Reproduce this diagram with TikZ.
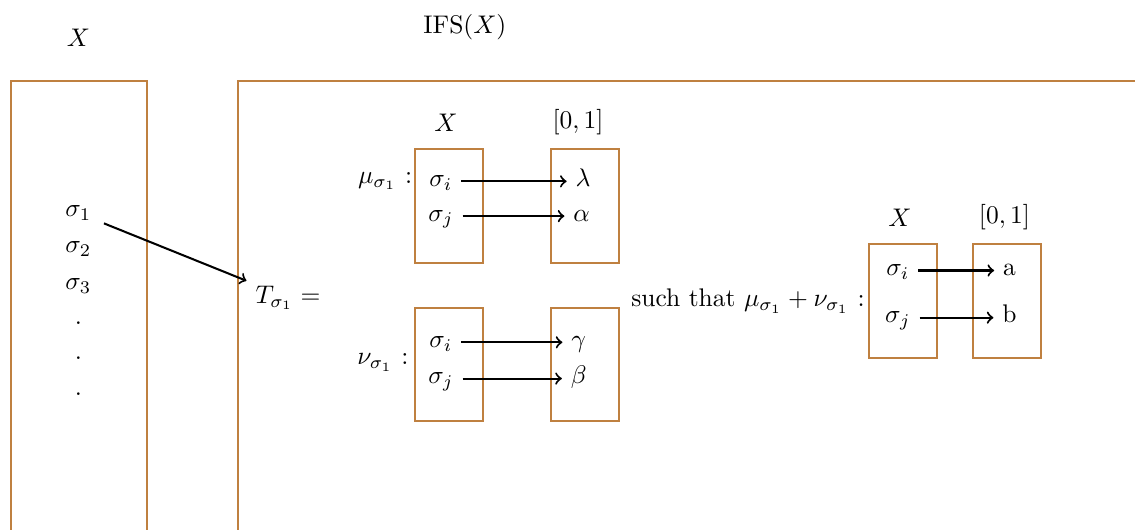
\documentclass[tikz,border=0pt]{standalone}
\begin{document}
\begin{tikzpicture}[
        set/.style={draw=brown, thick, minimum width=0.94cm, minimum height=1.56cm},
        elem/.style={text height=1.5ex, text depth=0.6ex},
        map/.style={->, thick}]

            \clip (0,0) rectangle (15.65,7.30);

            % the two big sets
            \draw[brown, thick] (0.15,-1) rectangle (2.03,6.18);
            \draw[brown, thick] (3.28,-1) rectangle (16.5,6.18);
            \node (xtop) at (1.08,6.78) {$X$};
            \node (ifstop) at (6.41,6.92) {IFS$(X)$};

            \node[elem] (s1) at (1.08,4.38) {$\sigma_1$};
            \node[elem] (s2) at (1.08,3.89) {$\sigma_2$};
            \node[elem] (s3) at (1.08,3.38) {$\sigma_3$};
            \node (d1) at (1.08,2.85) {.};
            \node (d2) at (1.08,2.36) {.};
            \node (d3) at (1.08,1.87) {.};

            \node (T) at (3.97,3.19) {$T_{\sigma_1} =$};
            \coordinate (s1out) at ([xshift=0.5mm,yshift=-1.6mm]s1.east);
            \draw[map] (s1out) -- ([yshift=-0.5mm]T.north west);

            % membership
            \node[set] (muX) at (6.19,4.46) {};
            \node[set] (muI) at (8.07,4.46) {};
            \node (muXl) at (6.15,5.61) {$X$};
            \node (muIl) at (7.97,5.61) {$[0,1]$};
            \node (mu) at (5.31,4.80) {$\mu_{\sigma_1}$ :};
            \node[elem] (mui) at (6.08,4.80) {$\sigma_i$};
            \node[elem] (muj) at (6.08,4.32) {$\sigma_j$};
            \node[elem] (lam) at (8.04,4.80) {$\lambda$};
            \node[elem] (alp) at (8.02,4.32) {$\alpha$};
            \draw[map] (mui) -- (lam);
            \draw[map] (muj) -- (alp);

            % non-membership
            \node[set] (nuX) at (6.19,2.27) {};
            \node[set] (nuI) at (8.07,2.27) {};
            \node (nu) at (5.28,2.30) {$\nu_{\sigma_1}$ :};
            \node[elem] (nui) at (6.08,2.58) {$\sigma_i$};
            \node[elem] (nuj) at (6.08,2.08) {$\sigma_j$};
            \node[elem] (gam) at (7.98,2.58) {$\gamma$};
            \node[elem] (bet) at (7.98,2.08) {$\beta$};
            \draw[map] (nui) -- (gam);
            \draw[map] (nuj) -- (bet);

            % sum
            \node[set] (sumX) at (12.45,3.15) {};
            \node[set] (sumI) at (13.89,3.15) {};
            \node (sumXl) at (12.41,4.30) {$X$};
            \node (sumIl) at (13.85,4.30) {$[0,1]$};
            \node[inner sep=1pt, anchor=east] (cond) at (sumX.west) {such that $\mu_{\sigma_1} + \nu_{\sigma_1}$ :};
            \node[elem] (sumi) at (12.38,3.57) {$\sigma_i$};
            \node[elem] (sumj) at (12.38,2.92) {$\sigma_j$};
            \node[elem] (a) at (13.92,3.57) {a};
            \node[elem] (b) at (13.92,2.92) {b};
            \draw[map] (sumi) -- (a);
            \draw[map] (sumj) -- (b);

        \end{tikzpicture}
\end{document}
